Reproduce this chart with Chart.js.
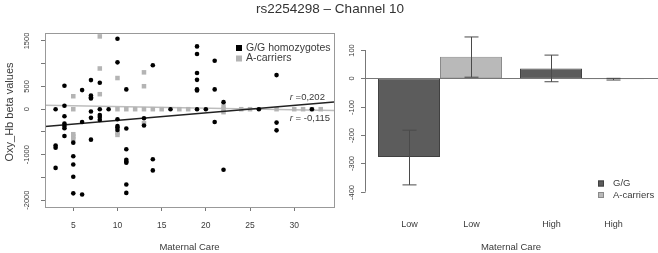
<!DOCTYPE html>
<html>
<head>
<meta charset="utf-8">
<script src="https://cdn.jsdelivr.net/npm/chart.js@4.4.0/dist/chart.umd.min.js"></script>
<style>
  body { margin: 0; background: #fff; }
  #wrap { position: relative; width: 658px; height: 253px; font-family: "Liberation Sans", Arial, sans-serif; }
  #title { position: absolute; left: 0; top: 1px; width: 660px; text-align: center; font-size: 13.5px; color: #333; }
  #scatter { position: absolute; left: 0; top: 0; }
  #bars { position: absolute; left: 340px; top: 0; }
</style>
</head>
<body>
<div id="wrap">
  <canvas id="scatter" width="340" height="253"></canvas>
  <canvas id="bars" width="318" height="253"></canvas>
  <div id="title">rs2254298 – Channel 10</div>
</div>
<script>
// left panel: maternal care vs Oxy_Hb beta, by genotype
const ggCare = [3,3,3,3, 4,4,4,4,4,4,4, 5,5,5,5,5, 6,6,6, 7,7,7,7,7,7,7, 8,8,8,8,8, 9,
  10,10,10,10,10,10, 11,11,11,11,11,11,11,11, 13,13, 14,14,14, 16, 19,19,19,19,19,19,19,
  20, 21,21,21, 22,22, 26, 28,28,28, 32]
const ggBeta = [0,-800,-845,-1290, 515,75,-155,-315,-370,-420,-590, -735,-1035,-1215,-1485,-1850,
  -1875,-280,420, 640,300,265,235,-50,-190,-670, 580,0,-130,-170,-235, 0,
  1550,1030,-220,-370,-405,-455, 435,-425,-880,-1110,-1150,-1175,-1655,-1840, -200,-360,
  965,-1100,-1345, 0, 1380,1215,795,645,440,410,0, 0, 1065,435,-280, 155,-1330, 0, 750,-295,-465, 0]
const acCare = [5,5,5,5,5, 8,8,8, 10,10,10,10, 11, 12, 13,13,13,13, 14, 15, 17, 18, 22,22,22, 24, 25, 28, 30, 31, 32, 33]
const acBeta = [285,0,-550,-600,-660, 1600,895,330, 685,0,-515,-565, 0, 0, 810,505,0,-310, 0, 0, 0, 0, 60,-65,0, 0, 0, 0, 0, 0, 0, 0]

// regression fits [G/G, A-carriers]
const fitSlope = [16.4, -3.6]
const fitIntercept = [-410, 94.5]
const fitLabel = ['=0,202', '= -0,115']

const xTickVals = [5, 10, 15, 20, 25, 30]
const yTickVals = [-2000, -1500, -1000, -500, 0, 500, 1000, 1500]
const yLabelVals = [1500, 500, 0, -1000, -2000]

// right panel: group means with error bars
const careGroups = ['Low', 'High']
const barTickLabels = ['Low', 'Low', 'High', 'High']
const ggMean = [-278, 35]
const acMean = [76, -3]
const ggLo = [-376, -12]
const ggHi = [-183, 82]
const acLo = [4, -6]
const acHi = [146, 0]
const barTickVals = [-400, -300, -200, -100, 0, 100]

const TXT = '#3a3a3a'
const FONT = '"Liberation Sans", Arial, sans-serif'
const X_MIN = 1.8, X_MAX = 34.5

function rotatedText (ctx, text, x, y, size) {
  ctx.save()
  ctx.translate(x, y)
  ctx.rotate(-Math.PI / 2)
  ctx.font = size + 'px ' + FONT
  ctx.fillStyle = TXT
  ctx.textAlign = 'center'
  ctx.textBaseline = 'middle'
  ctx.fillText(text, 0, 0)
  ctx.restore()
}

function seg (ctx, x1, y1, x2, y2) {
  ctx.beginPath()
  ctx.moveTo(x1, y1)
  ctx.lineTo(x2, y2)
  ctx.stroke()
}

const pts = (xs, ys) => xs.map((x, i) => ({ x: x, y: ys[i] }))
const fitLine = i => [X_MIN, X_MAX].map(x => ({ x: x, y: fitIntercept[i] + fitSlope[i] * x }))

const scatterDeco = {
  id: 'scatterDeco',
  afterDraw (chart) {
    const { ctx, chartArea: a, scales: { x, y } } = chart
    ctx.save()
    ctx.strokeStyle = '#999'
    ctx.lineWidth = 1
    ctx.strokeRect(a.left + 0.5, a.top + 0.5, a.right - a.left, a.bottom - a.top)

    yLabelVals.forEach(v => rotatedText(ctx, String(v), 27, y.getPixelForValue(v), 7.5))
    rotatedText(ctx, 'Oxy_Hb beta values', 10, 112, 11)

    // legend
    const ds = chart.data.datasets
    ctx.font = '10.5px ' + FONT
    ctx.textBaseline = 'middle'
    ;[0, 1].forEach(i => {
      const ly = 48 + i * 10.5
      ctx.fillStyle = ds[i].backgroundColor
      ctx.fillRect(236, ly - 3, 6, 6)
      ctx.fillStyle = TXT
      ctx.fillText(ds[i].label, 246, ly)
    })

    // r labels
    ;[0, 1].forEach(i => {
      const px = x.getPixelForValue(29.5)
      const py = y.getPixelForValue(fitIntercept[i] + fitSlope[i] * 31) + (i === 0 ? -7 : 8)
      ctx.fillStyle = TXT
      ctx.font = 'italic 9.5px ' + FONT
      ctx.fillText('r', px, py)
      const w = ctx.measureText('r ').width
      ctx.font = '9.5px ' + FONT
      ctx.fillText(fitLabel[i], px + w, py)
    })
    ctx.restore()
  }
}

new Chart(document.getElementById('scatter'), {
  type: 'scatter',
  data: {
    datasets: [
      { label: 'G/G homozygotes', data: pts(ggCare, ggBeta), backgroundColor: '#000', borderColor: '#000',
        pointRadius: 2.3, borderWidth: 0, order: 0 },
      { label: 'A-carriers', data: pts(acCare, acBeta), backgroundColor: '#b4b4b4', borderColor: '#b4b4b4',
        pointStyle: 'rect', pointRadius: 3.2, borderWidth: 0, order: 2 },
      { label: 'fit G/G', data: fitLine(0), showLine: true, borderColor: '#222', borderWidth: 1.5,
        pointRadius: 0, order: 1 },
      { label: 'fit A', data: fitLine(1), showLine: true, borderColor: '#bdbdbd', borderWidth: 1.5,
        pointRadius: 0, order: 3 }
    ]
  },
  options: {
    responsive: false,
    animation: false,
    devicePixelRatio: 1,
    layout: { padding: { top: 33, right: 6, left: 0, bottom: 0 } },
    plugins: { legend: { display: false }, tooltip: { enabled: false } },
    scales: {
      x: {
        type: 'linear',
        min: X_MIN,
        max: X_MAX,
        afterBuildTicks: s => { s.ticks = xTickVals.map(v => ({ value: v })) },
        afterFit: s => { s.height = 46 },
        border: { display: false },
        grid: { drawOnChartArea: false, drawTicks: true, tickLength: 4, color: '#777' },
        ticks: { color: TXT, font: { family: FONT, size: 8.5 }, padding: 10, maxRotation: 0 },
        title: { display: true, text: 'Maternal Care', color: TXT, font: { family: FONT, size: 9.5 }, padding: 0 }
      },
      y: {
        min: -2150,
        max: 1675,
        afterBuildTicks: s => { s.ticks = yTickVals.map(v => ({ value: v })) },
        afterFit: s => { s.width = 45 },
        border: { display: false },
        grid: { drawOnChartArea: false, drawTicks: true, tickLength: 4, color: '#777' },
        ticks: { display: false }
      }
    }
  },
  plugins: [scatterDeco]
})

const barDeco = {
  id: 'barDeco',
  afterDatasetsDraw (chart) {
    const { ctx, chartArea: a, scales: { y } } = chart
    const ax = a.left - 4
    ctx.save()
    ctx.lineWidth = 1
    ctx.strokeStyle = '#777'

    const y0 = Math.round(y.getPixelForValue(0)) + 0.5
    seg(ctx, ax, y0, chart.width, y0)

    // R style axis
    seg(ctx, ax + 0.5, y.getPixelForValue(barTickVals[0]), ax + 0.5, y.getPixelForValue(barTickVals[barTickVals.length - 1]))
    barTickVals.forEach(v => {
      const py = Math.round(y.getPixelForValue(v)) + 0.5
      seg(ctx, ax - 4, py, ax + 0.5, py)
      rotatedText(ctx, String(v), ax - 13, py, 7.5)
    })

    // error bars
    const lo = [ggLo, acLo], hi = [ggHi, acHi]
    ctx.strokeStyle = '#4a4a4a'
    const xs = []
    careGroups.forEach((g, j) => {
      [0, 1].forEach(d => {
        const bx = Math.round(chart.getDatasetMeta(d).data[j].x) + 0.5
        xs.push(bx)
        const p1 = y.getPixelForValue(lo[d][j]), p2 = y.getPixelForValue(hi[d][j])
        seg(ctx, bx, p1, bx, p2)
        seg(ctx, bx - 7, p1, bx + 7, p1)
        seg(ctx, bx - 7, p2, bx + 7, p2)
      })
    })

    ctx.fillStyle = TXT
    ctx.font = '9px ' + FONT
    ctx.textAlign = 'center'
    ctx.textBaseline = 'middle'
    xs.forEach((bx, k) => ctx.fillText(barTickLabels[k], bx, 225))

    // legend
    const ds = chart.data.datasets
    ctx.textAlign = 'left'
    ctx.font = '9.5px ' + FONT
    ;[0, 1].forEach(i => {
      const ly = 183.5 + i * 11.5
      ctx.fillStyle = ds[i].backgroundColor
      ctx.fillRect(258, ly - 3, 6, 6)
      ctx.strokeStyle = ds[i].borderColor
      ctx.strokeRect(258.5, ly - 2.5, 5, 5)
      ctx.fillStyle = TXT
      ctx.fillText(ds[i].label, 273, ly)
    })
    ctx.restore()
  }
}

new Chart(document.getElementById('bars'), {
  type: 'bar',
  data: {
    labels: careGroups,
    datasets: [
      { label: 'G/G', data: ggMean, backgroundColor: '#5c5c5c', borderColor: '#404040', borderWidth: 1, borderSkipped: false },
      { label: 'A-carriers', data: acMean, backgroundColor: '#b9b9b9', borderColor: '#8a8a8a', borderWidth: 1, borderSkipped: false }
    ]
  },
  options: {
    responsive: false,
    animation: false,
    devicePixelRatio: 1,
    layout: { padding: { top: 33, right: 5, left: 0, bottom: 0 } },
    datasets: { bar: { categoryPercentage: 0.873, barPercentage: 1 } },
    plugins: { legend: { display: false }, tooltip: { enabled: false } },
    scales: {
      x: {
        afterFit: s => { s.height = 46 },
        border: { display: false },
        grid: { display: false },
        ticks: { display: false },
        title: { display: true, text: 'Maternal Care', color: TXT, font: { family: FONT, size: 9.5 }, padding: 0 }
      },
      y: {
        min: -454,
        max: 160,
        afterBuildTicks: s => { s.ticks = barTickVals.map(v => ({ value: v })) },
        afterFit: s => { s.width = 29 },
        border: { display: false },
        grid: { display: false },
        ticks: { display: false }
      }
    }
  },
  plugins: [barDeco]
})
</script>
</body>
</html>
